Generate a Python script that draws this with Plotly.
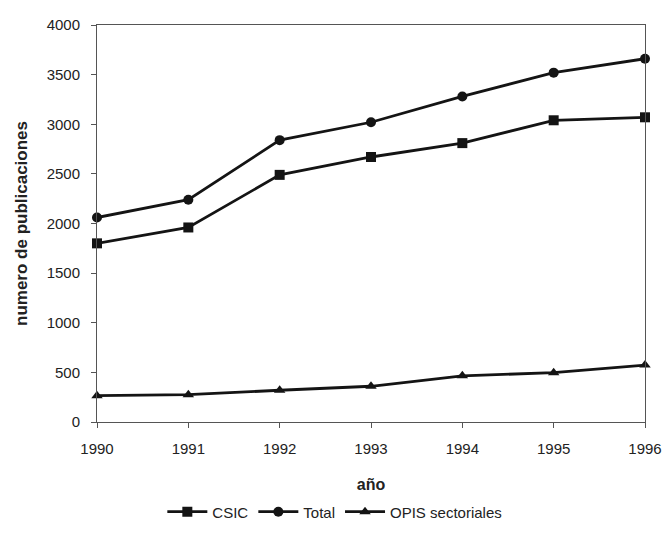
import plotly.graph_objects as go

years = [1990, 1991, 1992, 1993, 1994, 1995, 1996]
csic = [1800, 1960, 2490, 2670, 2810, 3040, 3070]
total = [2060, 2240, 2840, 3020, 3280, 3520, 3660]
opis = [265, 275, 320, 360, 465, 497, 574]

font = "Liberation Sans, Arial, sans-serif"
col = "#141414"

fig = go.Figure()
for name, vals, sym in [("CSIC", csic, "square"), ("Total", total, "circle"), ("OPIS sectoriales", opis, "triangle-up")]:
    fig.add_trace(go.Scatter(x=years, y=vals, name=name, mode="lines+markers",
                             line=dict(color=col, width=2.8),
                             marker=dict(symbol=sym, size=10, color=col),
                             cliponaxis=False))

fig.update_layout(
    width=667, height=548,
    margin=dict(l=97, r=22, t=25, b=126),
    paper_bgcolor="white", plot_bgcolor="white",
    font=dict(family=font, size=15, color="#222"),
    showlegend=True,
    legend=dict(orientation="h", x=0.434, xanchor="center",
                y=-0.185, yanchor="top",
                font=dict(size=15, family=font), itemwidth=40,
                traceorder="normal"),
    xaxis=dict(range=[1990, 1996], tickmode="array", tickvals=years,
               showline=True, linecolor="#555", linewidth=1, mirror=True,
               ticks="outside", ticklen=5, tickcolor="#555", ticklabelstandoff=8,
               showgrid=False, zeroline=False, automargin=False,
               title=dict(text="<b>año</b>", font=dict(size=16), standoff=22)),
    yaxis=dict(range=[0, 4000], dtick=500,
               showline=True, linecolor="#555", linewidth=1, mirror=True,
               ticks="outside", ticklen=5, tickcolor="#555", ticklabelstandoff=8,
               showgrid=False, zeroline=False, automargin=False,
               title=dict(text="<b>numero de publicaciones</b>", font=dict(size=17), standoff=14)),
)

fig.write_html("out.html", config={"displayModeBar": False},
               post_script="document.body.style.margin='0';document.body.style.overflow='hidden';")
